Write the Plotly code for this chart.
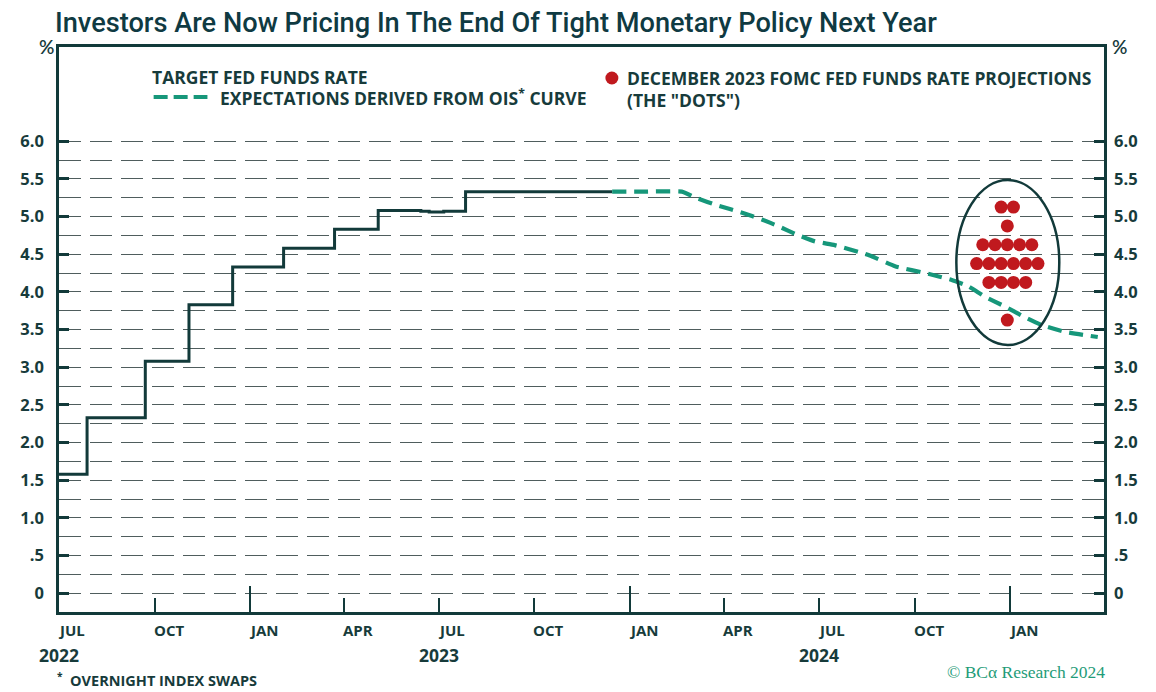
import plotly.graph_objects as go
import pandas as pd

# ---------------- data ----------------
fed_dates = ["2022-07-01", "2022-07-28", "2022-09-22", "2022-11-03", "2022-12-15",
             "2023-02-02", "2023-03-23", "2023-05-04", "2023-06-14", "2023-06-22",
             "2023-07-06", "2023-07-27", "2023-12-15"]
fed_rates = [1.58, 2.33, 3.08, 3.83, 4.33, 4.58, 4.83, 5.08, 5.07, 5.06, 5.07, 5.33, 5.33]

ois_dates = ["2023-12-15", "2024-01-15", "2024-02-20", "2024-03-04", "2024-03-27",
             "2024-04-18", "2024-05-07", "2024-05-23", "2024-06-08", "2024-06-27",
             "2024-07-16", "2024-08-08", "2024-08-21", "2024-09-12", "2024-10-14",
             "2024-11-05", "2024-11-22", "2024-12-07", "2024-12-26", "2025-01-14",
             "2025-01-31", "2025-02-22", "2025-03-26"]
ois_rates = [5.33, 5.33, 5.33, 5.25, 5.14, 5.05, 4.96, 4.87, 4.77, 4.67, 4.62, 4.53,
             4.47, 4.34, 4.24, 4.16, 4.07, 3.94, 3.81, 3.67, 3.56, 3.47, 3.40]

dot_levels = [5.125, 4.875, 4.625, 4.375, 4.125, 3.625]
dot_counts = [2, 1, 5, 6, 4, 1]
dot_date = "2024-12-29"

xtick_dates = ["2022-07-01", "2022-10-01", "2023-01-01", "2023-04-01", "2023-07-01",
               "2023-10-01", "2024-01-01", "2024-04-01", "2024-07-01", "2024-10-01",
               "2025-01-01"]
xtick_labels = ["JUL", "OCT", "JAN", "APR", "JUL", "OCT", "JAN", "APR", "JUL", "OCT", "JAN"]
year_dates = ["2022-07-01", "2023-07-01", "2024-07-01"]
year_labels = ["2022", "2023", "2024"]

ytick_vals = [0, 0.5, 1.0, 1.5, 2.0, 2.5, 3.0, 3.5, 4.0, 4.5, 5.0, 5.5, 6.0]
ytick_text = ["0", ".5", "1.0", "1.5", "2.0", "2.5", "3.0", "3.5", "4.0", "4.5", "5.0", "5.5", "6.0"]
yminor_vals = [v + 0.25 for v in ytick_vals[:-1]]

# ---------------- style ----------------
# page body has an 8px margin: figure is drawn at (8, 8) in the 1156x692 window
OFF = 8
W, H = 1156 - OFF, 692 - OFF
PLOT_L, PLOT_R, PLOT_T, PLOT_B = 55, 1104, 47, 612      # target screen coordinates
L, T = PLOT_L - OFF, PLOT_T - OFF
R = W - (PLOT_R - OFF)
B = H - (PLOT_B - OFF)
PW, PH = PLOT_R - PLOT_L, PLOT_B - PLOT_T
DARK = "#123a3a"
TEXT = "#173b3b"
GREEN = "#16977a"
RED = "#c0191e"
GRID = "#4f5d5d"
FONT = "Open Sans"


def pxx(x):
    return (x - PLOT_L) / PW


def pxy(y):
    return (PLOT_B - y) / PH


fig = go.Figure()

fig.add_trace(go.Scatter(x=fed_dates, y=fed_rates, mode="lines", line=dict(color=DARK, width=3, shape="hv"),
                         showlegend=False, hoverinfo="skip"))
fig.add_trace(go.Scatter(x=ois_dates, y=ois_rates, mode="lines",
                         line=dict(color=GREEN, width=4.2, dash="14px,8px", shape="spline", smoothing=0.4),
                         showlegend=False, hoverinfo="skip"))

# dots: spread horizontally around the projection date
center = pd.Timestamp(dot_date)
step_days = 11.8
dx, dy = [], []
for lvl, n in zip(dot_levels, dot_counts):
    for i in range(n):
        off = (i - (n - 1) / 2) * step_days
        dx.append(center + pd.Timedelta(days=off))
        dy.append(lvl)
fig.add_trace(go.Scatter(x=dx, y=dy, mode="markers", marker=dict(color=RED, size=13),
                         showlegend=False, hoverinfo="skip"))

# invisible trace on right axis so it gets drawn
fig.add_trace(go.Scatter(x=[fed_dates[0]], y=[fed_rates[0]], yaxis="y2", mode="markers",
                         marker=dict(opacity=0), showlegend=False, hoverinfo="skip"))

# ellipse around dots
ell_x0 = center - pd.Timedelta(days=49)
ell_x1 = center + pd.Timedelta(days=50)
fig.add_shape(type="circle", xref="x", yref="y", x0=ell_x0, x1=ell_x1,
              y0=min(dot_levels) - 0.33, y1=max(dot_levels) + 0.36,
              line=dict(color=DARK, width=2.5), layer="above")

tickfont = dict(family=FONT, size=16.5, color=TEXT, weight=700)

fig.update_layout(
    width=W, height=H, margin=dict(l=L, r=R, t=T, b=B),
    paper_bgcolor="white", plot_bgcolor="white",
    xaxis=dict(type="date", range=["2022-07-01", "2025-04-01"], showgrid=False, zeroline=False,
               showline=True, mirror=True, linecolor=DARK, linewidth=2.5,
               tickmode="array", tickvals=["2023-01-01", "2024-01-01", "2025-01-01"],
               ticks="inside", ticklen=26, tickwidth=2, tickcolor=DARK, showticklabels=False,
               minor=dict(tickmode="array",
                          tickvals=["2022-10-01", "2023-04-01", "2023-07-01", "2023-10-01",
                                    "2024-04-01", "2024-07-01", "2024-10-01"],
                          ticks="inside", ticklen=14, tickwidth=2, tickcolor=DARK, showgrid=False)),
    yaxis=dict(range=[-0.25, 7.25], tickmode="array", tickvals=ytick_vals, ticktext=ytick_text,
               ticks="inside", ticklen=10, tickwidth=2.5, tickcolor=DARK, tickfont=tickfont,
               ticklabelstandoff=9,
               showgrid=True, gridcolor=GRID, gridwidth=1.4, griddash="22px,9px", zeroline=False,
               showline=True, mirror=True, linecolor=DARK, linewidth=2.5,
               minor=dict(tickmode="array", tickvals=yminor_vals, showgrid=True, gridcolor=GRID,
                          gridwidth=1.4, griddash="22px,9px", ticks="")),
    yaxis2=dict(range=[-0.25, 7.25], overlaying="y", side="right", tickmode="array",
                tickvals=ytick_vals, ticktext=ytick_text, ticks="inside", ticklen=10, tickwidth=2.5,
                tickcolor=DARK, tickfont=tickfont, ticklabelstandoff=9,
                showgrid=False, zeroline=False, showline=False),
    showlegend=False,
)

ann = []
# title
ann.append(dict(text="Investors Are Now Pricing In The End Of Tight Monetary Policy Next Year",
                xref="paper", yref="paper", x=pxx(49), y=pxy(23), xanchor="left", yanchor="middle",
                showarrow=False,
                font=dict(family="Roboto", size=27.2, color="#0f3a42", weight=500)))
# % labels
pfont = dict(family="Lato", size=19, color=TEXT, weight=600)
ann.append(dict(text="%", xref="paper", yref="paper", x=pxx(42), y=pxy(46), xanchor="center",
                yanchor="middle", showarrow=False, font=pfont))
ann.append(dict(text="%", xref="paper", yref="paper", x=pxx(1120), y=pxy(46), xanchor="center",
                yanchor="middle", showarrow=False, font=pfont))
# legend texts
legfont = dict(family=FONT, size=17.5, color=TEXT, weight=700)
ann.append(dict(text="TARGET FED FUNDS RATE", xref="paper", yref="paper", x=pxx(146), y=pxy(77),
                xanchor="left", yanchor="middle", showarrow=False, font=legfont))
ann.append(dict(text="EXPECTATIONS DERIVED FROM OIS<sup>*</sup> CURVE", xref="paper", yref="paper",
                x=pxx(215), y=pxy(97), xanchor="left", yanchor="middle", showarrow=False, font=legfont))
ann.append(dict(text="DECEMBER 2023 FOMC FED FUNDS RATE PROJECTIONS", xref="paper", yref="paper",
                x=pxx(623), y=pxy(78), xanchor="left", yanchor="middle", showarrow=False, font=legfont))
ann.append(dict(text="(THE \"DOTS\")", xref="paper", yref="paper",
                x=pxx(623), y=pxy(100), xanchor="left", yanchor="middle", showarrow=False, font=legfont))
# legend samples
fig.add_shape(type="line", xref="paper", yref="paper", x0=pxx(150), x1=pxx(204), y0=pxy(97), y1=pxy(97),
              line=dict(color=GREEN, width=4, dash="14px,6px"))
fig.add_shape(type="circle", xref="paper", yref="paper", xsizemode="pixel", ysizemode="pixel",
              xanchor=pxx(610), yanchor=pxy(78), x0=-6.5, x1=6.5, y0=-6.5, y1=6.5,
              fillcolor=RED, line=dict(width=0))
# x tick labels
for d, t in zip(xtick_dates, xtick_labels):
    ann.append(dict(text=t, xref="x", yref="paper", x=d, y=pxy(630), xanchor="left", yanchor="middle",
                    xshift=-3, showarrow=False, font=dict(family=FONT, size=15, color=TEXT, weight=700)))
for d, t in zip(year_dates, year_labels):
    ann.append(dict(text=t, xref="x", yref="paper", x=d, y=pxy(655), xanchor="center", yanchor="middle",
                    showarrow=False, font=dict(family=FONT, size=17.5, color=TEXT, weight=700)))
# footnote & source
ann.append(dict(text="<sup>*</sup>  OVERNIGHT INDEX SWAPS", xref="paper", yref="paper", x=pxx(51), y=pxy(679),
                xanchor="left", yanchor="middle", showarrow=False,
                font=dict(family=FONT, size=14.5, color=TEXT, weight=700)))
ann.append(dict(text="© BCα Research 2024", xref="paper", yref="paper", x=pxx(1107), y=pxy(672),
                xanchor="right", yanchor="middle", showarrow=False,
                font=dict(family="Liberation Serif, DejaVu Serif, serif", size=17.5, color="#1f9c78")))

fig.update_layout(annotations=ann)
fig.write_html("out.html")
